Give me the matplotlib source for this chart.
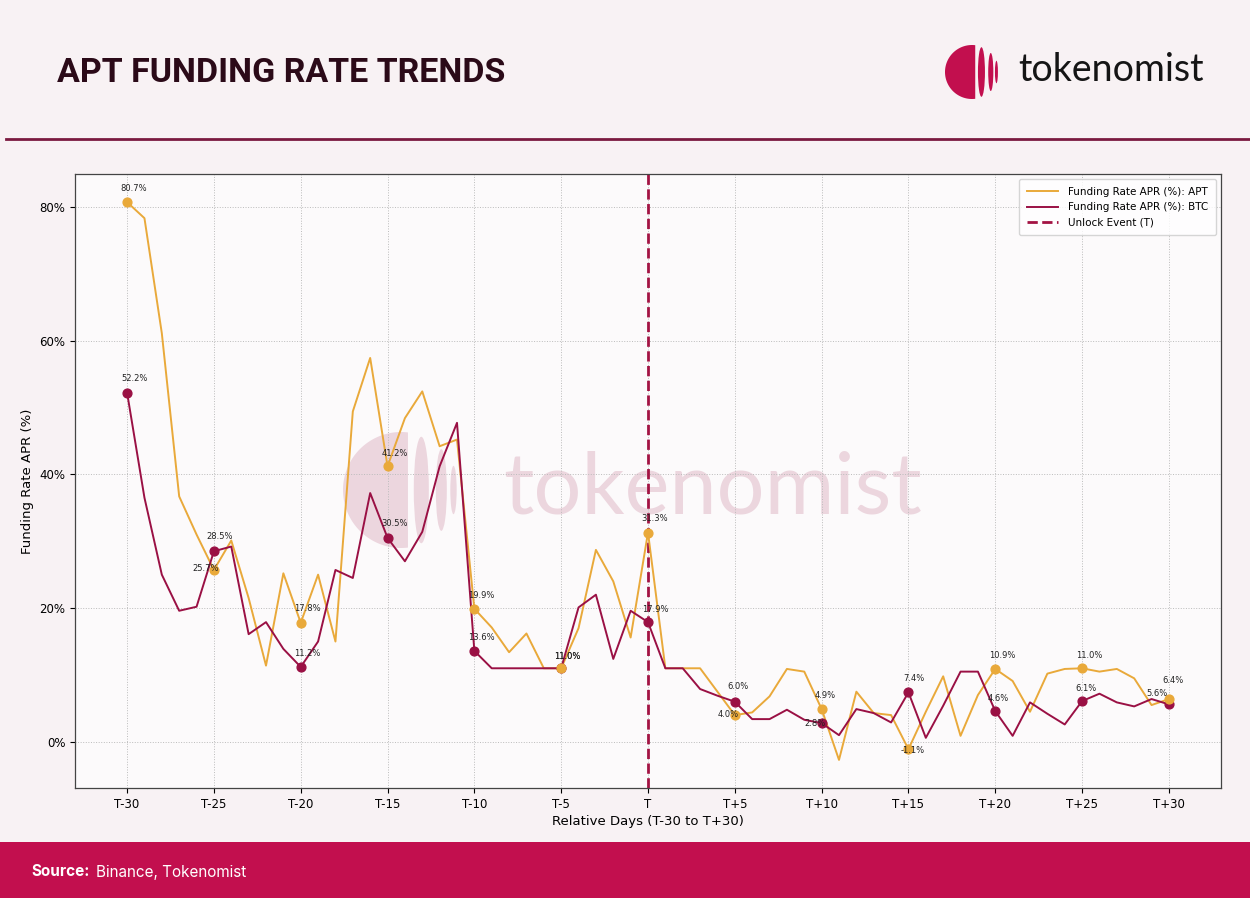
import numpy as np
import matplotlib
matplotlib.use('Agg')
import matplotlib.pyplot as plt
from matplotlib.patches import Ellipse, Rectangle, Polygon
from matplotlib.lines import Line2D
from matplotlib.transforms import Affine2D

# data (days relative to unlock, funding rate APR in %)
days = list(range(-30, 31))
apt = [80.7, 78.3, 61.1, 36.7, 31.0, 25.7, 30.1, 21.5, 11.4, 25.2,
       17.8, 25.0, 15.0, 49.4, 57.4, 41.2, 48.4, 52.4, 44.2, 45.2,
       19.9, 17.1, 13.4, 16.2, 11.0, 11.0, 17.0, 28.7, 24.0, 15.6,
       31.3, 11.0, 11.0, 11.0, 7.5, 4.0, 4.4, 6.8, 10.9, 10.5,
       4.9, -2.7, 7.5, 4.3, 4.0, -1.1, 4.5, 9.8, 0.9, 7.0,
       10.9, 9.1, 4.5, 10.2, 10.9, 11.0, 10.5, 10.9, 9.5, 5.5, 6.4]
btc = [52.2, 36.5, 25.0, 19.6, 20.2, 28.5, 29.2, 16.1, 17.9, 13.9,
       11.2, 15.0, 25.7, 24.5, 37.2, 30.5, 27.0, 31.4, 41.2, 47.7,
       13.6, 11.0, 11.0, 11.0, 11.0, 11.0, 20.1, 22.0, 12.4, 19.6,
       17.9, 11.0, 11.0, 7.9, 6.9, 6.0, 3.4, 3.4, 4.8, 3.3,
       2.8, 1.0, 4.9, 4.3, 2.9, 7.4, 0.6, 5.4, 10.5, 10.5,
       4.6, 0.9, 5.9, 4.2, 2.6, 6.1, 7.2, 5.9, 5.3, 6.4, 5.6]
label_days = [-30, -25, -20, -15, -10, -5, 0, 5, 10, 15, 20, 25, 30]
tick_days = list(range(-30, 31, 5))
tick_labels = ['T-30', 'T-25', 'T-20', 'T-15', 'T-10', 'T-5', 'T',
               'T+5', 'T+10', 'T+15', 'T+20', 'T+25', 'T+30']

# label offsets in pixels (dx, dy), roughly where the labels sit
apt_off = [(7, 14), (-8, 1), (7, 14), (7, 13), (7, 13), (6, 12), (7, 14),
           (-7, 1), (4, 14), (4, -1), (7, 13), (7, 13), (4, 19)]
btc_off = [(7, 14), (6, 15), (7, 13), (7, 14), (7, 13), (6, 12), (7, 13),
           (3, 15), (-7, 0), (5, 14), (3, 13), (4, 13), (-12, 11)]

APT_C = '#E9A93A'
BTC_C = '#9A1044'
CRIMSON = '#C20F4E'

W, H = 1250, 898
fig = plt.figure(figsize=(12.5, 8.98), dpi=100, facecolor='#F8F2F4')
# pixel coords, origin top-left
px = Affine2D().scale(1 / W, -1 / H).translate(0, 1) + fig.transFigure


def draw_logo(target, cx, cy, r, color, alpha=1.0, z=1):
    # left body: circle cut by a vertical chord a bit right of the centre
    t0 = np.arccos(0.12)
    t = np.linspace(t0, 2 * np.pi - t0, 80)
    pts = np.column_stack([cx + r * np.cos(t), cy + r * np.sin(t)])
    target.add_artist(Polygon(pts, closed=True, transform=px, color=color,
                              alpha=alpha, lw=0, zorder=z))
    for a, b in [(0.22, 0.48), (0.6, 0.79), (0.85, 0.96)]:
        xm = (a + b) / 2 * r
        hh = np.sqrt(max(r ** 2 - xm ** 2, 0)) * 0.98
        target.add_artist(Ellipse((cx + xm, cy), (b - a) * r, 2 * hh, transform=px,
                                  color=color, alpha=alpha, lw=0, zorder=z))


# header
fig.text(57, 73, 'APT FUNDING RATE TRENDS', transform=px, fontsize=24.5,
         fontweight='bold', color='#2B0A18', va='center', ha='left',
         family=['Roboto', 'DejaVu Sans'])
draw_logo(fig, 972, 72, 27, CRIMSON)
fig.text(1018, 70, 'tokenomist', transform=px, fontsize=27, color='#151515',
         va='center', ha='left', family=['Lato', 'DejaVu Sans'])
fig.add_artist(Line2D([6, W], [139, 139], transform=px, color='#7B1A40', lw=2))

# footer band
fig.add_artist(Rectangle((0, 842), W, 56, transform=px, color=CRIMSON, lw=0))
fig.text(31, 872, 'Source:', transform=px, fontsize=11, fontweight='bold',
         color='white', va='center', family=['Inter', 'DejaVu Sans'])
fig.text(96, 872, 'Binance, Tokenomist', transform=px, fontsize=11,
         color='white', va='center', family=['Inter', 'DejaVu Sans'])

# main chart
ax = fig.add_axes([0.06, 0.1225, 0.9168, 0.6837])
ax.set_facecolor('#FCFAFB')

# watermark
draw_logo(ax, 401, 490, 58, '#E2BECB', alpha=0.6, z=1)
ax.text(503, 490, 'tokenomist', transform=px, fontsize=61, color='#E2BECB',
        alpha=0.6, va='center', ha='left', family=['Lato', 'DejaVu Sans'], zorder=1)

ax.plot(days, apt, color=APT_C, lw=1.4, label='Funding Rate APR (%): APT', zorder=3)
ax.plot(days, btc, color=BTC_C, lw=1.4, label='Funding Rate APR (%): BTC', zorder=3)
ax.axvline(0, color='#A31343', ls='--', lw=2, label='Unlock Event (T)', zorder=2)

btc_pts = [btc[days.index(d)] for d in label_days]
apt_pts = [apt[days.index(d)] for d in label_days]
ax.scatter(label_days, btc_pts, color=BTC_C, s=40, zorder=4)
ax.scatter(label_days, apt_pts, color=APT_C, s=40, zorder=5)

for d, v, off in zip(label_days, btc_pts, btc_off):
    ax.annotate(f'{v:.1f}%', (d, v), xytext=off, textcoords='offset pixels',
                ha='center', va='center', fontsize=6, color='#222222', zorder=6)
for d, v, off in zip(label_days, apt_pts, apt_off):
    ax.annotate(f'{v:.1f}%', (d, v), xytext=off, textcoords='offset pixels',
                ha='center', va='center', fontsize=6, color='#222222', zorder=6)

ax.set_xlim(-33, 33)
ax.set_ylim(-6.9, 84.9)
ax.set_xticks(tick_days)
ax.set_xticklabels(tick_labels, fontsize=8.5)
ax.set_yticks([0, 20, 40, 60, 80])
ax.set_yticklabels(['0%', '20%', '40%', '60%', '80%'], fontsize=8.5)
ax.set_xlabel('Relative Days (T-30 to T+30)', fontsize=9.5, labelpad=3)
ax.set_ylabel('Funding Rate APR (%)', fontsize=9.5)
ax.grid(True, ls=':', color='#BBBBBB', lw=0.7)
for s in ax.spines.values():
    s.set_color('#444444')
    s.set_linewidth(0.9)

ax.legend(loc='upper right', fontsize=7.5, frameon=True, facecolor='white',
          edgecolor='#CCCCCC', handlelength=3.0, handletextpad=1.0,
          borderpad=0.7, labelspacing=0.55)

fig.savefig('out.png', dpi=100, facecolor=fig.get_facecolor())
